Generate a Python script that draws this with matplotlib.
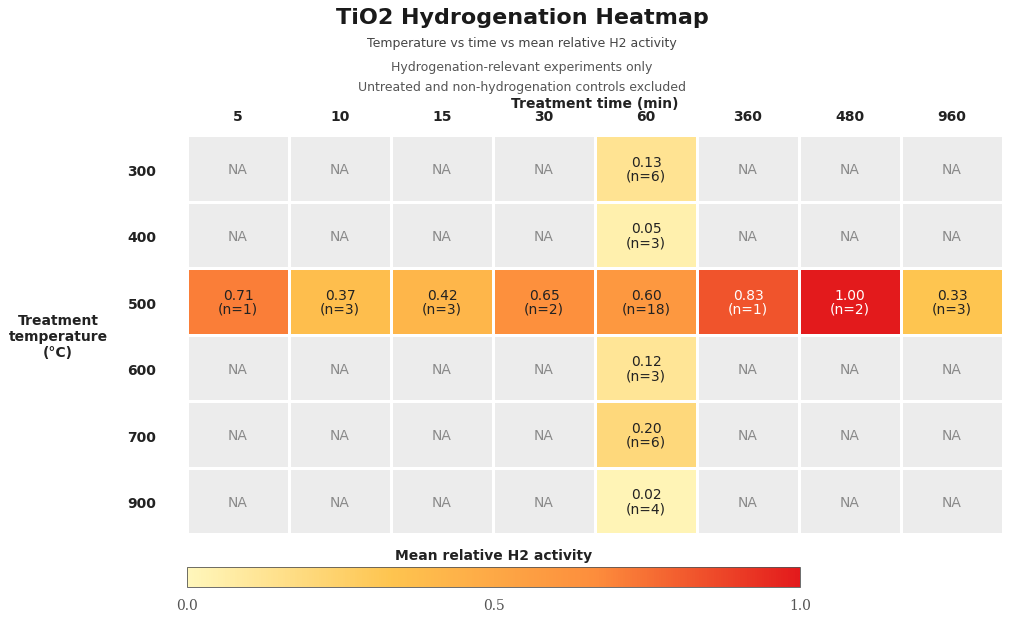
import numpy as np
import matplotlib
matplotlib.use("Agg")
import matplotlib.pyplot as plt
from matplotlib.colors import LinearSegmentedColormap, Normalize

times = ["5", "10", "15", "30", "60", "360", "480", "960"]
temps = ["300", "400", "500", "600", "700", "900"]
nan = np.nan
values = [
    [nan, nan, nan, nan, 0.13, nan, nan, nan],
    [nan, nan, nan, nan, 0.05, nan, nan, nan],
    [0.71, 0.37, 0.42, 0.65, 0.60, 0.83, 1.00, 0.33],
    [nan, nan, nan, nan, 0.12, nan, nan, nan],
    [nan, nan, nan, nan, 0.20, nan, nan, nan],
    [nan, nan, nan, nan, 0.02, nan, nan, nan],
]
counts = [
    [0, 0, 0, 0, 6, 0, 0, 0],
    [0, 0, 0, 0, 3, 0, 0, 0],
    [1, 3, 3, 2, 18, 1, 2, 3],
    [0, 0, 0, 0, 3, 0, 0, 0],
    [0, 0, 0, 0, 6, 0, 0, 0],
    [0, 0, 0, 0, 4, 0, 0, 0],
]

cmap = LinearSegmentedColormap.from_list(
    "h2", ["#fff7bc", "#fec44f", "#fd8d3c", "#e31a1c"])
cmap.set_bad("#ececec")
norm = Normalize(0, 1)

W, H = 1009, 617
fig = plt.figure(figsize=(W / 100, H / 100), dpi=100)

def rect(x0, y0, x1, y1):
    return [x0 / W, 1 - y1 / H, (x1 - x0) / W, (y1 - y0) / H]

ax = fig.add_axes(rect(187, 135, 1003, 534))
data = np.ma.masked_invalid(np.array(values, dtype=float))
mesh = ax.pcolormesh(np.arange(len(times) + 1), np.arange(len(temps) + 1), data,
                     cmap=cmap, norm=norm, edgecolors="white", linewidth=2)
ax.set_xlim(0, len(times))
ax.set_ylim(len(temps), 0)
for s in ax.spines.values():
    s.set_visible(False)

for i in range(len(temps)):
    for j in range(len(times)):
        v = values[i][j]
        if np.isnan(v):
            ax.text(j + 0.5, i + 0.53, "NA", ha="center", va="center",
                    fontsize=10, color="#8a8a8a")
        else:
            c = "white" if v > 0.75 else "#222222"
            ax.text(j + 0.5, i + 0.52, f"{v:.2f}\n(n={counts[i][j]})",
                    ha="center", va="center", fontsize=10, color=c,
                    linespacing=1.0)

ax.xaxis.tick_top()
ax.xaxis.set_label_position("top")
ax.set_xticks(np.arange(len(times)) + 0.5)
ax.set_xticklabels(times, fontsize=10, fontweight="bold", color="#222222")
ax.set_yticks(np.arange(len(temps)) + 0.53)
ax.set_yticklabels(temps, fontsize=10, fontweight="bold", color="#222222")
ax.tick_params(axis="x", length=0, pad=8)
ax.tick_params(axis="y", length=0, pad=22)
ax.set_xlabel("Treatment time (min)", fontsize=10, fontweight="bold",
              color="#222222", labelpad=1)

fig.text(58 / W, 1 - 337 / H, "Treatment\ntemperature\n(°C)", ha="center",
         va="center", fontsize=10, fontweight="bold", color="#222222",
         linespacing=1.2)

fig.text(522 / W, 1 - 17.5 / H, "TiO2 Hydrogenation Heatmap",
         ha="center", va="center", fontsize=16, fontweight="bold", color="#1a1a1a")
fig.text(522 / W, 1 - 44 / H, "Temperature vs time vs mean relative H2 activity",
         ha="center", va="center", fontsize=9, color="#444444")
fig.text(522 / W, 1 - 68 / H, "Hydrogenation-relevant experiments only",
         ha="center", va="center", fontsize=9, color="#555555")
fig.text(522 / W, 1 - 87 / H, "Untreated and non-hydrogenation controls excluded",
         ha="center", va="center", fontsize=9, color="#555555")

cax = fig.add_axes(rect(187, 567, 800, 587))
cb = fig.colorbar(mesh, cax=cax, orientation="horizontal")
cb.set_ticks([0, 0.5, 1.0])
cb.set_ticklabels(["0.0", "0.5", "1.0"])
cax.tick_params(length=0, pad=8.5, labelsize=10, labelcolor="#555555")
for lab in cax.get_xticklabels():
    lab.set_family("DejaVu Serif")
cb.outline.set_linewidth(0.6)
cb.outline.set_edgecolor("#555555")
cax.set_title("Mean relative H2 activity", fontsize=10, fontweight="bold",
              color="#222222", pad=5)

fig.savefig("out.png", dpi=100)
